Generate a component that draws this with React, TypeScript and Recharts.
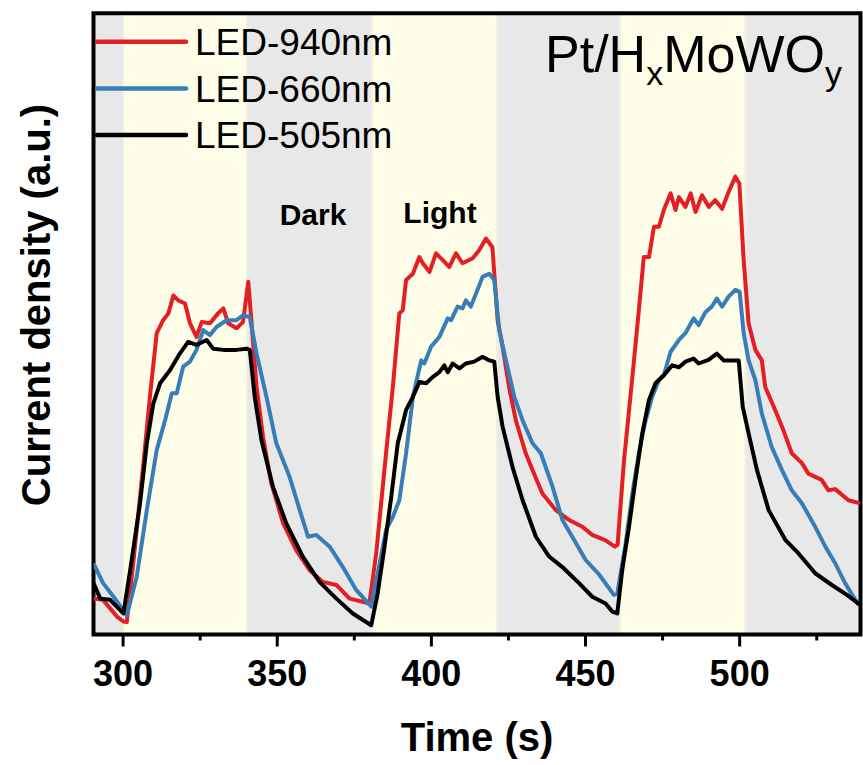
import React from "react";
import { LineChart, Line, XAxis, YAxis, ReferenceArea } from "recharts";

type Pt = [number, number];

// photocurrent traces, [time (s), current density (a.u.)]
const led940: Pt[] = [
  [290.4, 5.4], [293.5, 5.2], [298.0, 2.5], [300.1, 1.7], [301.2, 1.6], [303.3, 11.1], [306.6, 27.3],
  [308.7, 38.0], [310.9, 48.3], [313.0, 50.4], [314.7, 51.5], [316.3, 54.4], [317.9, 53.6], [320.1, 53.1],
  [321.7, 49.9], [323.8, 47.7], [325.5, 50.1], [328.2, 49.9], [330.8, 51.5], [332.5, 52.3], [334.1, 49.9],
  [336.8, 49.1], [338.9, 50.1], [340.6, 56.6], [341.6, 50.4], [343.3, 39.6], [345.4, 31.5], [348.1, 24.0],
  [351.9, 17.6], [356.2, 13.2], [360.5, 10.0], [364.8, 8.1], [369.2, 7.6], [373.5, 5.4], [379.9, 4.6],
  [382.1, 12.7], [385.3, 28.9], [387.5, 39.6], [389.6, 51.5], [390.7, 52.0], [391.8, 56.9], [394.0, 57.9],
  [396.1, 60.6], [397.2, 59.6], [399.4, 58.2], [401.5, 61.2], [403.7, 60.1], [405.8, 59.0], [408.0, 61.2],
  [410.1, 59.6], [413.4, 60.4], [415.5, 61.7], [417.7, 63.6], [419.8, 62.2], [421.5, 50.4], [423.1, 46.1],
  [425.2, 39.6], [427.4, 34.2], [430.6, 28.9], [432.8, 26.2], [436.0, 22.4], [440.4, 19.7], [444.7, 18.1],
  [449.0, 17.0], [452.2, 15.7], [456.5, 14.8], [459.5, 13.8], [460.4, 14.1],
  [462.5, 27.8], [465.2, 41.2], [467.3, 52.0], [468.9, 60.6], [470.6, 60.6], [472.2, 65.5], [473.8, 65.5],
  [475.4, 68.2], [477.6, 70.9], [479.2, 68.2], [480.3, 70.3], [482.4, 68.7], [484.1, 70.9], [485.7, 67.9],
  [487.8, 70.6], [490.0, 68.7], [492.1, 69.8], [494.3, 68.4], [496.4, 71.1], [498.6, 73.6], [499.9, 72.5],
  [501.3, 60.1], [502.9, 49.9], [505.1, 45.6], [507.2, 43.9], [508.3, 39.6], [511.5, 35.9], [514.2, 32.6],
  [516.9, 28.9], [520.2, 27.3], [522.3, 25.6], [526.6, 24.6], [528.8, 22.9], [531.0, 23.1], [535.3, 21.3],
  [539.1, 20.8],
];

const led660: Pt[] = [
  [290.4, 11.1], [293.5, 7.9], [296.9, 5.7], [301.2, 2.7], [304.4, 8.9], [307.7, 19.7], [310.9, 29.4],
  [313.6, 34.2], [315.8, 38.6], [317.4, 38.6], [319.5, 42.9], [321.7, 43.7], [323.8, 45.6], [326.0, 48.8],
  [328.2, 48.0], [330.3, 49.3], [333.6, 50.4], [336.8, 50.4], [338.9, 51.2], [341.1, 50.9], [343.3, 45.0],
  [346.5, 38.0], [349.7, 30.5], [354.0, 25.1], [357.3, 19.7], [360.0, 15.4], [362.7, 15.7], [367.0, 13.8],
  [371.3, 10.5], [375.6, 6.8], [380.5, 4.1],
  [382.6, 9.5], [385.3, 16.5], [387.5, 18.6], [389.6, 21.3], [391.8, 28.9], [394.0, 38.0], [396.7, 43.9],
  [397.7, 43.4], [399.9, 46.1], [402.6, 47.7], [405.3, 50.7], [406.4, 50.4], [408.5, 52.6], [410.1, 52.3],
  [411.2, 53.6], [412.8, 52.6], [414.5, 54.7], [416.6, 57.4], [418.8, 57.9], [420.4, 56.9], [422.0, 48.8],
  [424.2, 43.9], [426.9, 38.0], [429.6, 34.2], [432.8, 30.5], [435.5, 28.9], [439.3, 23.5], [442.5, 18.1],
  [445.7, 15.4], [450.1, 11.6], [454.4, 9.3], [459.2, 6.0], [460.3, 6.2],
  [463.0, 14.3], [465.2, 22.4], [467.3, 28.9], [469.5, 34.2], [471.6, 38.0], [473.8, 40.7], [475.4, 41.5],
  [477.6, 45.3], [480.3, 47.2], [482.4, 48.3], [485.1, 50.7], [486.7, 49.6], [488.9, 51.7], [491.0, 52.6],
  [492.6, 53.9], [494.3, 52.6], [496.4, 54.2], [498.6, 55.3], [500.0, 55.0], [501.3, 48.3], [502.9, 43.9],
  [505.1, 40.7], [507.2, 35.3], [510.4, 29.9], [513.7, 26.2], [516.9, 22.9], [520.2, 20.8], [524.5, 17.0],
  [527.8, 13.8], [531.0, 11.1], [534.2, 7.9], [538.5, 4.4],
];

const led505: Pt[] = [
  [290.4, 7.9], [292.6, 5.4], [295.8, 5.2], [300.1, 3.0], [302.3, 10.0], [305.5, 20.8], [307.7, 30.5],
  [309.8, 36.9], [312.0, 40.2], [315.2, 42.3], [318.4, 45.0], [321.1, 46.9], [323.8, 46.4], [327.1, 47.2],
  [329.2, 45.8], [332.5, 45.6], [336.8, 45.6], [340.0, 45.8], [341.1, 45.6], [342.7, 38.0], [344.9, 31.0],
  [348.6, 23.5], [352.9, 17.6], [358.3, 12.2], [363.7, 8.1], [369.2, 5.4], [374.5, 3.0], [380.5, 1.1],
  [382.6, 6.3], [384.8, 13.8], [387.0, 21.9], [389.1, 30.5], [391.8, 35.9], [394.0, 38.0], [396.1, 40.4],
  [398.3, 40.2], [400.4, 41.2], [402.6, 42.0], [404.2, 43.1], [405.3, 42.0], [406.9, 43.4], [409.1, 42.6],
  [411.2, 43.4], [413.9, 43.7], [416.6, 44.5], [418.8, 43.9], [420.4, 43.7], [421.5, 38.0], [423.1, 33.2],
  [426.3, 26.7], [429.6, 21.3], [433.9, 15.4], [438.2, 12.2], [442.5, 10.5], [447.9, 7.9], [452.2, 5.7],
  [456.5, 4.6], [458.7, 3.3], [460.3, 3.0],
  [461.9, 10.0], [464.1, 17.0], [466.2, 24.6], [468.4, 32.1], [470.6, 37.5], [472.7, 40.2], [475.4, 41.5],
  [478.1, 43.1], [480.3, 42.8], [482.4, 43.7], [485.1, 44.2], [486.7, 43.4], [489.9, 44.0], [492.6, 45.0],
  [494.8, 43.9], [497.5, 43.9], [499.7, 43.9], [501.0, 36.4], [502.9, 32.1], [505.6, 26.2], [509.4, 19.7],
  [514.8, 14.9], [519.1, 12.7], [524.5, 9.5], [529.9, 7.6], [534.8, 6.0], [539.1, 4.4],
];

const seriesNames = ["LED-940nm", "LED-660nm", "LED-505nm"];
const seriesColors = ["#e31e24", "#377eb8", "#000000"];
const seriesData = [led940, led660, led505];

// illumination on / off windows (s)
const lightStart = [300, 380.7, 461.2];
const lightEnd = [340.2, 421.3, 501.9];
const darkStart = [290.4, 340.2, 421.3, 501.9];
const darkEnd = [300, 380.7, 461.2, 539.2];

const majorTicks = [300, 350, 400, 450, 500];
const minorTicks = [325, 375, 425, 475, 525];

const X_DOMAIN: [number, number] = [290.4, 539.2];
const Y_DOMAIN: [number, number] = [-0.4, 100];

const W = 863;
const H = 765;
const FONT = '"Liberation Sans", Arial, Helvetica, sans-serif';

const toRows = (pts: Pt[]) => pts.map(([t, v]) => ({ t, v }));

function TimeTick({ x, y, payload }: any) {
  const major = majorTicks.includes(payload.value);
  return (
    <g>
      <line x1={x} x2={x} y1={y} y2={y + (major ? 12 : 6)} stroke="#000" strokeWidth={3} />
      {major && (
        <text
          x={x}
          y={y + 51.5}
          textAnchor="middle"
          fontFamily={FONT}
          fontWeight="bold"
          fontSize={36}
          fill="#000"
        >
          {payload.value}
        </text>
      )}
    </g>
  );
}

// legend, sample name, phase labels and axis titles, layered above the plot
function Annotations() {
  return (
    <svg
      width={W}
      height={H}
      style={{ position: "absolute", left: 0, top: 0, pointerEvents: "none" }}
    >
      <g fontFamily={FONT} fill="#000">
        {seriesNames.map((name, i) => (
          <g key={name}>
            <line
              x1={97}
              x2={186}
              y1={41.7 + i * 46.7}
              y2={41.7 + i * 46.7}
              stroke={seriesColors[i]}
              strokeWidth={4.5}
              strokeLinecap="round"
            />
            <text x={195} y={55 + i * 46.7} fontSize={37}>
              {name}
            </text>
          </g>
        ))}
        <text x={545} y={72} fontSize={52}>
          Pt/H
          <tspan fontSize={34} dy={13}>x</tspan>
          <tspan dy={-13}>MoWO</tspan>
          <tspan fontSize={34} dy={13}>y</tspan>
        </text>
        <text x={313} y={225} fontSize={30} fontWeight="bold" textAnchor="middle">
          Dark
        </text>
        <text x={440} y={223} fontSize={30} fontWeight="bold" textAnchor="middle">
          Light
        </text>
        <text x={477} y={751} fontSize={40} fontWeight="bold" textAnchor="middle">
          Time (s)
        </text>
        <text
          transform="translate(50 305) rotate(-90)"
          fontSize={40}
          fontWeight="bold"
          textAnchor="middle"
        >
          Current density (a.u.)
        </text>
      </g>
    </svg>
  );
}

export default function App() {
  return (
    <div style={{ position: "absolute", left: 0, top: 0, width: W, height: H, background: "#fff" }}>
      <LineChart
        width={W}
        height={H}
        margin={{ top: 13.3, right: 2.5, bottom: 0, left: 93.5 }}
      >
        <XAxis
          type="number"
          dataKey="t"
          domain={X_DOMAIN}
          allowDataOverflow
          ticks={[...majorTicks, ...minorTicks].sort((a, b) => a - b)}
          interval={0}
          height={130.5}
          axisLine={false}
          tickLine={false}
          tickSize={0}
          tickMargin={0}
          tick={<TimeTick />}
        />
        <YAxis type="number" domain={Y_DOMAIN} allowDataOverflow hide />

        {darkStart.map((s, i) => (
          <ReferenceArea
            key={`dark-${i}`}
            x1={s}
            x2={darkEnd[i]}
            y1={Y_DOMAIN[0]}
            y2={Y_DOMAIN[1]}
            fill="#e8e8e8"
            fillOpacity={1}
            stroke="none"
          />
        ))}
        {lightStart.map((s, i) => (
          <ReferenceArea
            key={`light-${i}`}
            x1={s}
            x2={lightEnd[i]}
            y1={Y_DOMAIN[0]}
            y2={Y_DOMAIN[1]}
            fill="#fefde8"
            fillOpacity={1}
            stroke="#f1efdf"
            strokeWidth={2}
          />
        ))}
        <ReferenceArea
          x1={X_DOMAIN[0]}
          x2={X_DOMAIN[1]}
          y1={Y_DOMAIN[0]}
          y2={Y_DOMAIN[1]}
          fill="none"
          stroke="#000"
          strokeWidth={4}
        />

        {seriesData.map((pts, i) => (
          <Line
            key={seriesNames[i]}
            data={toRows(pts)}
            dataKey="v"
            type="linear"
            stroke={seriesColors[i]}
            strokeWidth={4}
            strokeLinejoin="round"
            dot={false}
            activeDot={false}
            isAnimationActive={false}
          />
        ))}
      </LineChart>
      <Annotations />
    </div>
  );
}
